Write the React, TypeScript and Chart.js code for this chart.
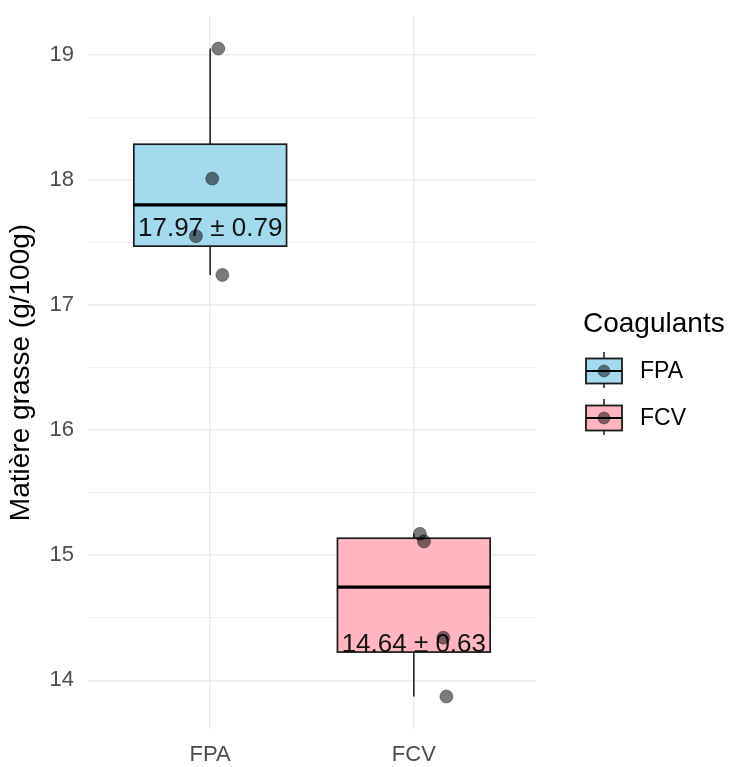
import React, { useEffect, useRef } from 'react';
import { Chart, registerables } from 'chart.js';

Chart.register(...registerables);

// ---- data ----
const categories = ['FPA', 'FCV'];
const fillColors = ['#A3DAEE', '#FFB6C1'];

const fpaValues = [19.05, 18.01, 17.55, 17.24];
const fpaJitter = [0.04, 0.01, -0.07, 0.06];
const fcvValues = [15.17, 15.11, 14.34, 13.87];
const fcvJitter = [0.03, 0.05, 0.145, 0.16];

const whiskerLow = [17.24, 13.87];
const boxQ1 = [17.47, 14.225];
const boxMedian = [17.8, 14.745];
const boxQ3 = [18.285, 15.135];
const whiskerHigh = [19.05, 15.17];

const meanLabels = ['17.97 ± 0.79', '14.64 ± 0.63'];
const labelY = [17.61, 14.28];

const yMajorTicks = [14, 15, 16, 17, 18, 19];
const yMinorTicks = [14.5, 15.5, 16.5, 17.5, 18.5];
const yRange = [13.61, 19.31];
const xRange = [0.4, 2.6];

const yTitle = 'Matière grasse (g/100g)';
const legendTitle = 'Coagulants';

const FONT = "'Liberation Sans', Arial, sans-serif";

const boxPlugin = {
  id: 'boxPlugin',
  beforeDatasetsDraw(chart: any) {
    const { ctx, scales } = chart;
    const x = scales.x;
    const y = scales.y;
    ctx.save();
    categories.forEach((_, i) => {
      const cx = x.getPixelForValue(i + 1);
      const left = x.getPixelForValue(i + 1 - 0.375);
      const right = x.getPixelForValue(i + 1 + 0.375);
      const yq1 = y.getPixelForValue(boxQ1[i]);
      const yq3 = y.getPixelForValue(boxQ3[i]);
      const ymed = y.getPixelForValue(boxMedian[i]);
      const ylo = y.getPixelForValue(whiskerLow[i]);
      const yhi = y.getPixelForValue(whiskerHigh[i]);
      ctx.strokeStyle = '#262626';
      ctx.lineWidth = 1.6;
      ctx.beginPath();
      ctx.moveTo(cx, yq3);
      ctx.lineTo(cx, yhi);
      ctx.moveTo(cx, yq1);
      ctx.lineTo(cx, ylo);
      ctx.stroke();
      ctx.fillStyle = fillColors[i];
      ctx.fillRect(left, yq3, right - left, yq1 - yq3);
      ctx.strokeStyle = '#1a1a1a';
      ctx.lineWidth = 1.7;
      ctx.strokeRect(left, yq3, right - left, yq1 - yq3);
      ctx.strokeStyle = '#000';
      ctx.lineWidth = 3.2;
      ctx.beginPath();
      ctx.moveTo(left, ymed);
      ctx.lineTo(right, ymed);
      ctx.stroke();
      ctx.fillStyle = '#111';
      ctx.font = `26px ${FONT}`;
      ctx.textAlign = 'center';
      ctx.textBaseline = 'middle';
      ctx.fillText(meanLabels[i], cx, y.getPixelForValue(labelY[i]));
    });
    ctx.restore();
  },
};

const legendPlugin = {
  id: 'customLegend',
  afterDraw(chart: any) {
    const { ctx } = chart;
    ctx.save();
    ctx.fillStyle = '#000';
    ctx.font = `28px ${FONT}`;
    ctx.textAlign = 'left';
    ctx.textBaseline = 'alphabetic';
    ctx.fillText(legendTitle, 583, 332);
    categories.forEach((cat, i) => {
      const cy = 371 + i * 47;
      const kx0 = 586;
      const kx1 = 622;
      const kc = (kx0 + kx1) / 2;
      ctx.strokeStyle = '#262626';
      ctx.lineWidth = 1.6;
      ctx.beginPath();
      ctx.moveTo(kc, cy - 19);
      ctx.lineTo(kc, cy + 17);
      ctx.stroke();
      ctx.fillStyle = fillColors[i];
      ctx.fillRect(kx0, cy - 12.5, kx1 - kx0, 25);
      ctx.strokeStyle = '#1a1a1a';
      ctx.lineWidth = 1.8;
      ctx.strokeRect(kx0, cy - 12.5, kx1 - kx0, 25);
      ctx.strokeStyle = '#000';
      ctx.lineWidth = 2;
      ctx.beginPath();
      ctx.moveTo(kx0, cy);
      ctx.lineTo(kx1, cy);
      ctx.stroke();
      ctx.beginPath();
      ctx.arc(kc, cy, 6, 0, Math.PI * 2);
      ctx.fillStyle = 'rgba(0,0,0,0.5)';
      ctx.fill();
      ctx.strokeStyle = 'rgba(0,0,0,0.35)';
      ctx.lineWidth = 1;
      ctx.stroke();
      ctx.fillStyle = '#000';
      ctx.font = `23px ${FONT}`;
      ctx.textBaseline = 'middle';
      ctx.fillText(cat, 640, cy + 1);
    });
    ctx.restore();
  },
};

export default function App() {
  const canvasRef = useRef<HTMLCanvasElement | null>(null);

  useEffect(() => {
    if (!canvasRef.current) return;
    const pointStyle = {
      type: 'scatter' as const,
      backgroundColor: 'rgba(0,0,0,0.52)',
      borderColor: 'rgba(0,0,0,0.35)',
      borderWidth: 1,
      pointRadius: 6.5,
      pointHoverRadius: 6.5,
    };
    const chart = new Chart(canvasRef.current, {
      type: 'scatter',
      data: {
        datasets: [
          {
            label: categories[0],
            data: fpaValues.map((v, j) => ({ x: 1 + fpaJitter[j], y: v })),
            ...pointStyle,
          },
          {
            label: categories[1],
            data: fcvValues.map((v, j) => ({ x: 2 + fcvJitter[j], y: v })),
            ...pointStyle,
          },
        ],
      },
      options: {
        animation: false,
        responsive: false,
        devicePixelRatio: 1,
        layout: { padding: { top: 16, right: 194, left: 0, bottom: 0 } },
        plugins: {
          legend: { display: false },
          tooltip: { enabled: false },
        },
        scales: {
          x: {
            type: 'linear',
            min: xRange[0],
            max: xRange[1],
            afterBuildTicks: (scale: any) => {
              scale.ticks = categories.map((_, i) => ({ value: i + 1 }));
            },
            afterFit: (scale: any) => {
              scale.height = 38;
              scale.paddingLeft = 0;
              scale.paddingRight = 0;
            },
            ticks: {
              autoSkip: false,
              maxRotation: 0,
              padding: 13,
              color: '#4D4D4D',
              font: { family: FONT, size: 22 },
              callback: (value: any) => categories[Math.round(Number(value)) - 1] ?? '',
            },
            grid: { color: '#EBEBEB', lineWidth: 1.4, drawTicks: false },
            border: { display: false },
          },
          y: {
            type: 'linear',
            min: yRange[0],
            max: yRange[1],
            afterBuildTicks: (scale: any) => {
              scale.ticks = [...yMajorTicks, ...yMinorTicks]
                .sort((a, b) => a - b)
                .map((v) => ({ value: v }));
            },
            afterFit: (scale: any) => {
              scale.width = 88;
              scale.paddingTop = 0;
              scale.paddingBottom = 0;
            },
            ticks: {
              autoSkip: false,
              padding: 14,
              color: '#4D4D4D',
              font: { family: FONT, size: 22 },
              callback: (value: any) => (yMajorTicks.includes(Number(value)) ? String(value) : ''),
            },
            grid: {
              color: '#EBEBEB',
              lineWidth: (c: any) => (c.tick && yMajorTicks.includes(c.tick.value) ? 1.4 : 0.8),
              drawTicks: false,
            },
            border: { display: false },
            title: {
              display: true,
              text: yTitle,
              color: '#000',
              font: { family: FONT, size: 28 },
              padding: { top: 4, bottom: 0 },
            },
          },
        },
      },
      plugins: [boxPlugin, legendPlugin],
    });
    return () => chart.destroy();
  }, []);

  return (
    <div style={{ position: 'fixed', left: 0, top: 0, width: 730, height: 767, background: '#fff' }}>
      <canvas ref={canvasRef} width={730} height={767} style={{ display: 'block' }} />
    </div>
  );
}
